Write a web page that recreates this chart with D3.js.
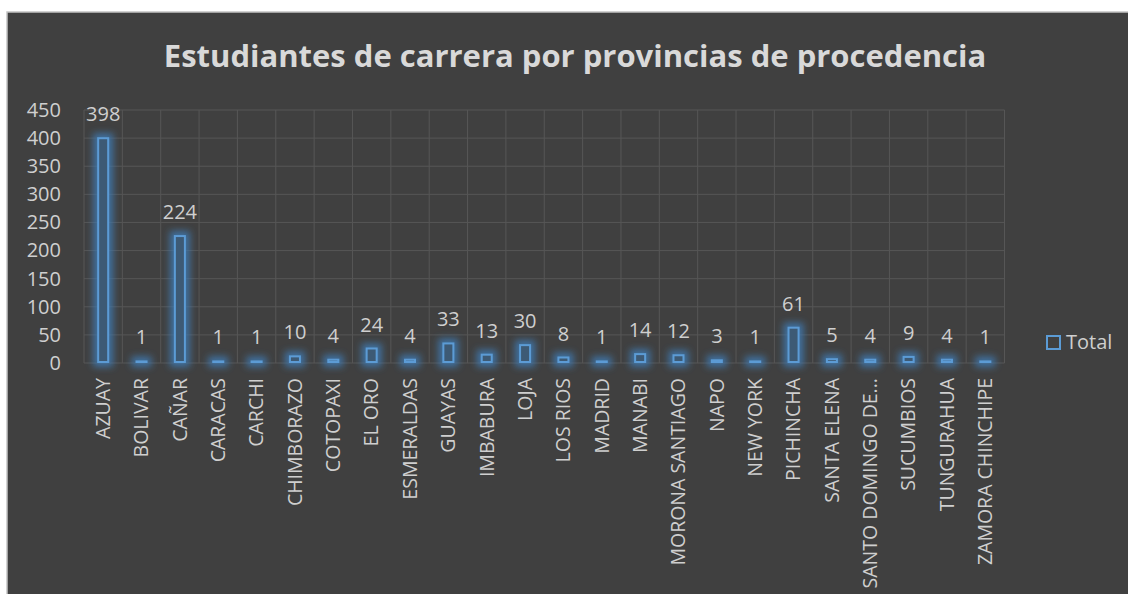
<!DOCTYPE html>
<html>
<head>
<meta charset="utf-8">
<script src="https://cdn.jsdelivr.net/npm/d3@7"></script>
<style>
  html, body { margin: 0; padding: 0; background: #fff; }
  svg { display: block; font-family: 'Open Sans', 'Noto Sans', sans-serif; }
</style>
</head>
<body>
<svg id="chart" width="1128" height="594"></svg>
<script>
const chartTitle = 'Estudiantes de carrera por provincias de procedencia'
const provinces = [
	'AZUAY', 'BOLIVAR', 'CAÑAR', 'CARACAS', 'CARCHI', 'CHIMBORAZO', 'COTOPAXI', 'EL ORO',
	'ESMERALDAS', 'GUAYAS', 'IMBABURA', 'LOJA', 'LOS RIOS', 'MADRID', 'MANABI',
	'MORONA SANTIAGO', 'NAPO', 'NEW YORK', 'PICHINCHA', 'SANTA ELENA', 'SANTO DOMINGO DE...',
	'SUCUMBIOS', 'TUNGURAHUA', 'ZAMORA CHINCHIPE'
]
const totals = [398, 1, 224, 1, 1, 10, 4, 24, 4, 33, 13, 30, 8, 1, 14, 12, 3, 1, 61, 5, 4, 9, 4, 1]
const yTicks = [0, 50, 100, 150, 200, 250, 300, 350, 400, 450]
const seriesName = 'Total'

const bg = '#404040'
const grid = '#565656'
const textCol = '#cfcfcf'
const blue = '#5b9bd5'

const svg = d3.select('#chart')
const margin = {left: 84, top: 110, right: 1004.5, bottom: 363}

// chart frame
svg.append('rect').attr('x', 7).attr('y', 12).attr('width', 1130).attr('height', 600)
	.attr('fill', bg).attr('stroke', '#c4c4c4').attr('stroke-width', 1.5)

// soft blue glow round the bars
const defs = svg.append('defs')
const glow = defs.append('filter').attr('id', 'glow')
	.attr('filterUnits', 'userSpaceOnUse')
	.attr('x', 0).attr('y', 0).attr('width', 1128).attr('height', 594)
glow.append('feMorphology').attr('in', 'SourceAlpha').attr('operator', 'dilate').attr('radius', 4).attr('result', 'd')
glow.append('feGaussianBlur').attr('in', 'd').attr('stdDeviation', 3.5).attr('result', 'b')
glow.append('feFlood').attr('flood-color', '#3f79b0').attr('flood-opacity', 0.85)
glow.append('feComposite').attr('in2', 'b').attr('operator', 'in').attr('result', 'g')
const merge = glow.append('feMerge')
merge.append('feMergeNode').attr('in', 'g')
merge.append('feMergeNode').attr('in', 'SourceGraphic')

svg.append('text').attr('x', 575).attr('y', 67).attr('text-anchor', 'middle')
	.attr('fill', '#d9d9d9').attr('font-size', 31).attr('font-weight', 'bold')
	.text(chartTitle)

const x = d3.scaleBand().domain(provinces).range([margin.left, margin.right])
const y = d3.scaleLinear().domain([0, 450]).range([margin.bottom, margin.top])

// gridlines
const g = svg.append('g')
g.selectAll('.hg').data(yTicks).enter().append('line')
	.attr('x1', margin.left).attr('x2', margin.right)
	.attr('y1', d => y(d)).attr('y2', d => y(d))
	.attr('stroke', grid).attr('stroke-width', 1)
g.selectAll('.vg').data(provinces.concat(['__end'])).enter().append('line')
	.attr('x1', (d, i) => margin.left + i * x.step()).attr('x2', (d, i) => margin.left + i * x.step())
	.attr('y1', margin.top).attr('y2', margin.bottom)
	.attr('stroke', grid).attr('stroke-width', 1)

// y axis
const yAxis = svg.append('g').attr('transform', `translate(${margin.left},0)`)
	.call(d3.axisLeft(y).tickValues(yTicks).tickSize(0).tickPadding(23))
yAxis.select('.domain').remove()
yAxis.selectAll('text').attr('fill', textCol).attr('font-size', 20)
	.attr('font-family', "'Open Sans', sans-serif")

// x axis
const xAxis = svg.append('g').attr('transform', `translate(0,${margin.bottom})`)
	.call(d3.axisBottom(x).tickSize(0).tickPadding(0))
xAxis.select('.domain').remove()
xAxis.selectAll('text').attr('fill', textCol).attr('font-size', 19.5)
	.attr('font-family', "'Open Sans', sans-serif")
	.attr('text-anchor', 'end').attr('dy', '0.35em')
	.attr('transform', 'translate(0,15) rotate(-90)')
	.attr('x', 0).attr('y', 0)

// bars
const barW = 10
const bars = svg.append('g').attr('filter', 'url(#glow)')
bars.selectAll('rect').data(totals).enter().append('rect')
	.attr('x', (d, i) => x(provinces[i]) + x.bandwidth() / 2 - barW / 2)
	.attr('y', d => y(d) - 1)
	.attr('width', barW)
	.attr('height', d => Math.max(y(0) - y(d), 0.5))
	.attr('fill', '#3d5a75')
	.attr('stroke', blue).attr('stroke-width', 2)

// value labels
svg.append('g').selectAll('text').data(totals).enter().append('text')
	.attr('x', (d, i) => x(provinces[i]) + x.bandwidth() / 2)
	.attr('y', d => y(d) - 18)
	.attr('text-anchor', 'middle')
	.attr('fill', textCol).attr('font-size', 20)
	.text(d => d)

// legend
const leg = svg.append('g').attr('transform', 'translate(1046,335)')
leg.append('rect').attr('x', 1).attr('y', 1).attr('width', 13).attr('height', 13)
	.attr('fill', 'none').attr('stroke', blue).attr('stroke-width', 2)
leg.append('text').attr('x', 20).attr('y', 14).attr('fill', textCol).attr('font-size', 20)
	.text(seriesName)
</script>
</body>
</html>
